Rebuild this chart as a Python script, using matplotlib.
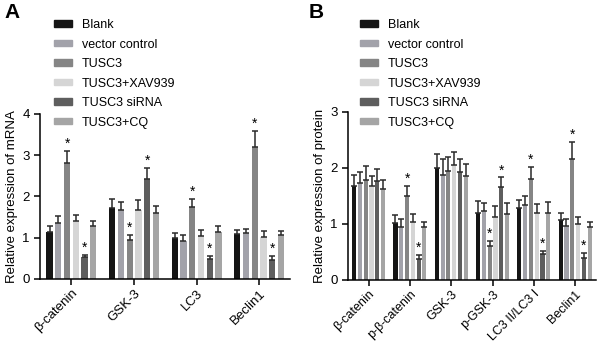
import matplotlib
matplotlib.use('Agg')
import matplotlib.pyplot as plt
import matplotlib.patches as mpatches
import numpy as np

plt.rcParams['font.family'] = ['Liberation Sans', 'DejaVu Sans']

groups = ['Blank', 'vector control', 'TUSC3', 'TUSC3+XAV939', 'TUSC3 siRNA', 'TUSC3+CQ']
colors = ['#151515', '#a2a2aa', '#858585', '#d5d5d5', '#5e5e5e', '#a5a5a5']

# panel A: mRNA
genes_a = ['β-catenin', 'GSK-3', 'LC3', 'Beclin1']
mean_a = [
    [1.13, 1.72, 0.98, 1.08],   # Blank
    [1.35, 1.66, 0.93, 1.10],   # vector control
    [2.80, 0.94, 1.74, 3.19],   # TUSC3
    [1.40, 1.68, 1.03, 1.01],   # TUSC3+XAV939
    [0.52, 2.43, 0.49, 0.46],   # TUSC3 siRNA
    [1.27, 1.60, 1.13, 1.07],   # TUSC3+CQ
]
top_a = [
    [1.29, 1.94, 1.11, 1.19],
    [1.52, 1.86, 1.06, 1.22],
    [3.10, 1.07, 1.94, 3.59],
    [1.56, 1.90, 1.19, 1.15],
    [0.59, 2.69, 0.56, 0.56],
    [1.40, 1.77, 1.29, 1.17],
]
stars_a = [2, 4]

# panel B: protein
genes_b = ['β-catenin', 'p-β-catenin', 'GSK-3', 'p-GSK-3', 'LC3 II/LC3 I', 'Beclin1']
mean_b = [
    [1.68, 1.01, 2.00, 1.19, 1.28, 1.07],
    [1.73, 0.95, 1.88, 1.23, 1.34, 0.97],
    [1.79, 1.49, 1.95, 0.61, 1.80, 2.16],
    [1.68, 1.03, 2.05, 1.13, 1.20, 1.00],
    [1.77, 0.38, 1.93, 1.65, 0.47, 0.39],
    [1.62, 0.94, 1.86, 1.17, 1.20, 0.94],
]
top_b = [
    [1.87, 1.16, 2.24, 1.40, 1.43, 1.19],
    [1.92, 1.09, 2.16, 1.38, 1.49, 1.09],
    [2.03, 1.68, 2.19, 0.69, 2.01, 2.46],
    [1.86, 1.17, 2.28, 1.31, 1.36, 1.13],
    [1.98, 0.44, 2.15, 1.83, 0.52, 0.48],
    [1.79, 1.04, 2.07, 1.38, 1.39, 1.04],
]
stars_b = {0: [], 1: [2, 4], 2: [], 3: [2, 4], 4: [2, 4], 5: [2, 4]}

fig = plt.figure(figsize=(6.0, 3.46), dpi=100)
axa = fig.add_axes([0.067, 0.194, 0.417, 0.477])
axb = fig.add_axes([0.58, 0.191, 0.413, 0.486])

slot = 0.14
width = 0.1


def draw(ax, genes, means, tops, stars, ymax, ylabel, xfs):
    x = np.arange(len(genes))
    for i in range(len(groups)):
        xi = x + (i - 2.5) * slot
        m = np.array(means[i])
        t = np.array(tops[i])
        ax.bar(xi, m, width, color=colors[i], zorder=2)
        ax.errorbar(xi, m, yerr=[np.zeros_like(m), t - m], fmt='none',
                    ecolor='#2a2a2a', elinewidth=1.1, capsize=2, capthick=1.1, zorder=3)
        for j in range(len(genes)):
            s = stars[j] if isinstance(stars, dict) else stars
            if i in s:
                ax.annotate('*', (xi[j], t[j]), xytext=(0, 0), textcoords='offset points',
                            ha='center', va='bottom', fontsize=10)
    ax.set_xlim(-0.5, len(genes) - 0.5)
    ax.set_ylim(0, ymax)
    ax.set_yticks(range(ymax + 1))
    ax.set_xticks(x)
    ax.set_xticklabels(genes, rotation=45, ha='right', rotation_mode='anchor', fontsize=xfs)
    ax.tick_params(axis='y', labelsize=9.5, length=4, width=1.1)
    ax.tick_params(axis='x', length=4, width=1.1, pad=2)
    for sp in ['top', 'right']:
        ax.spines[sp].set_visible(False)
    for sp in ['left', 'bottom']:
        ax.spines[sp].set_linewidth(1.1)
    ax.set_ylabel(ylabel, fontsize=9.5, labelpad=3)


draw(axa, genes_a, mean_a, top_a, stars_a, 4, 'Relative expression of mRNA', 9.5)
draw(axb, genes_b, mean_b, top_b, stars_b, 3, 'Relative expression of protein', 9)

handles = [mpatches.Patch(color=c) for c in colors]
for xpos in [0.09, 0.6]:
    fig.legend(handles, groups, loc='upper left', bbox_to_anchor=(xpos, 0.945),
               frameon=False, fontsize=9, handlelength=1.45, handleheight=0.45,
               handletextpad=0.8, labelspacing=0.6, borderaxespad=0, borderpad=0)

fig.text(0.008, 0.99, 'A', fontsize=15, fontweight='bold', va='top')
fig.text(0.515, 0.99, 'B', fontsize=15, fontweight='bold', va='top')

fig.savefig('out.png', dpi=100)
